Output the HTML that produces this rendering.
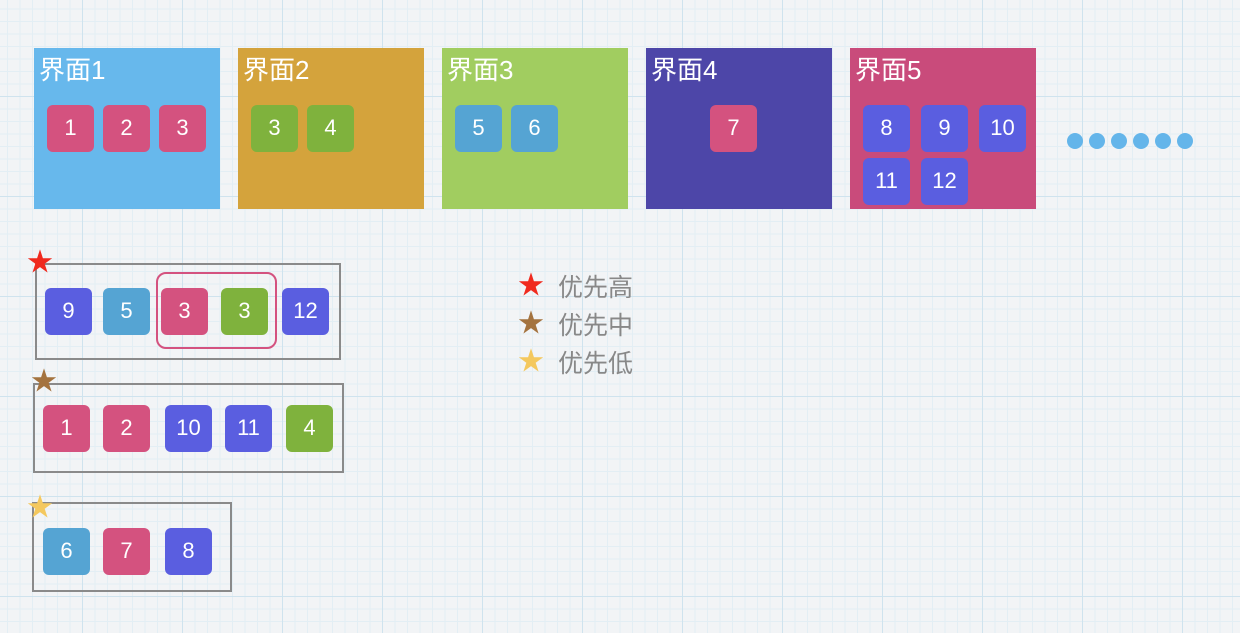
<!DOCTYPE html>
<html><head><meta charset="utf-8"><style>
body{margin:0;width:1240px;height:633px;overflow:hidden;position:relative;font-family:"Liberation Sans","Noto Sans CJK SC",sans-serif;
background-color:#f2f4f6;
background-image:linear-gradient(#cfe3ee 1px,transparent 1px),linear-gradient(90deg,#cfe3ee 1px,transparent 1px),linear-gradient(#e3eef4 1px,transparent 1px),linear-gradient(90deg,#e3eef4 1px,transparent 1px);
background-size:100px 100px,100px 100px,12.5px 12.5px,12.5px 12.5px;background-position:-18px -4px;}
.p{position:absolute;top:48px;width:186px;height:161px;}
.p span{position:absolute;left:5px;top:2px;color:#fff;font-size:26px;}
.t{position:absolute;width:47px;height:47px;border-radius:6px;color:#fff;font-size:22px;text-align:center;line-height:46px;}
.pk{background:#d4527f}.bl{background:#5a5ee0}.lb{background:#55a4d3}.gr{background:#7fb23d}
.box{position:absolute;border:2px solid #8a8a8a;box-sizing:border-box;}
.s{position:absolute;font-size:26px;line-height:26px;}
.lg{position:absolute;left:558px;font-size:25px;color:#888;}
.d{position:absolute;top:133px;width:16px;height:16px;border-radius:50%;background:#64b5ea;}
</style></head><body>
<div class="p" style="left:34px;background:#67b8ec"><span>界面1</span></div>
<div class="p" style="left:238px;background:#d4a33c"><span>界面2</span></div>
<div class="p" style="left:442px;background:#a1cd60"><span>界面3</span></div>
<div class="p" style="left:646px;background:#4d46a8"><span>界面4</span></div>
<div class="p" style="left:850px;background:#c94b7b"><span>界面5</span></div>
<div class="t pk" style="left:47px;top:105px">1</div>
<div class="t pk" style="left:103px;top:105px">2</div>
<div class="t pk" style="left:159px;top:105px">3</div>
<div class="t gr" style="left:251px;top:105px">3</div>
<div class="t gr" style="left:307px;top:105px">4</div>
<div class="t lb" style="left:455px;top:105px">5</div>
<div class="t lb" style="left:511px;top:105px">6</div>
<div class="t pk" style="left:710px;top:105px">7</div>
<div class="t bl" style="left:863px;top:105px">8</div>
<div class="t bl" style="left:921px;top:105px">9</div>
<div class="t bl" style="left:979px;top:105px">10</div>
<div class="t bl" style="left:863px;top:158px">11</div>
<div class="t bl" style="left:921px;top:158px">12</div>
<div class="d" style="left:1067px"></div><div class="d" style="left:1089px"></div><div class="d" style="left:1111px"></div><div class="d" style="left:1133px"></div><div class="d" style="left:1155px"></div><div class="d" style="left:1177px"></div>

<div class="box" style="left:35px;top:263px;width:306px;height:97px"></div>
<div style="position:absolute;left:156px;top:272px;width:121px;height:77px;border:2px solid #d4527f;border-radius:10px;box-sizing:border-box"></div>
<div class="s" style="left:27px;top:249px;color:#f02a1e">★</div>
<div class="t bl" style="left:45px;top:288px">9</div>
<div class="t lb" style="left:103px;top:288px">5</div>
<div class="t pk" style="left:161px;top:288px">3</div>
<div class="t gr" style="left:221px;top:288px">3</div>
<div class="t bl" style="left:282px;top:288px">12</div>

<div class="box" style="left:33px;top:383px;width:311px;height:90px"></div>
<div class="s" style="left:31px;top:368px;color:#a4733f">★</div>
<div class="t pk" style="left:43px;top:405px">1</div>
<div class="t pk" style="left:103px;top:405px">2</div>
<div class="t bl" style="left:165px;top:405px">10</div>
<div class="t bl" style="left:225px;top:405px">11</div>
<div class="t gr" style="left:286px;top:405px">4</div>

<div class="box" style="left:32px;top:502px;width:200px;height:90px"></div>
<div class="s" style="left:27px;top:494px;color:#f4c85e">★</div>
<div class="t lb" style="left:43px;top:528px">6</div>
<div class="t pk" style="left:103px;top:528px">7</div>
<div class="t bl" style="left:165px;top:528px">8</div>

<div class="s" style="left:518px;top:272px;color:#f02a1e">★</div>
<div class="s" style="left:518px;top:310px;color:#a4733f">★</div>
<div class="s" style="left:518px;top:348px;color:#f4c85e">★</div>
<div class="lg" style="top:268px">优先高</div>
<div class="lg" style="top:306px">优先中</div>
<div class="lg" style="top:344px">优先低</div>
</body></html>
